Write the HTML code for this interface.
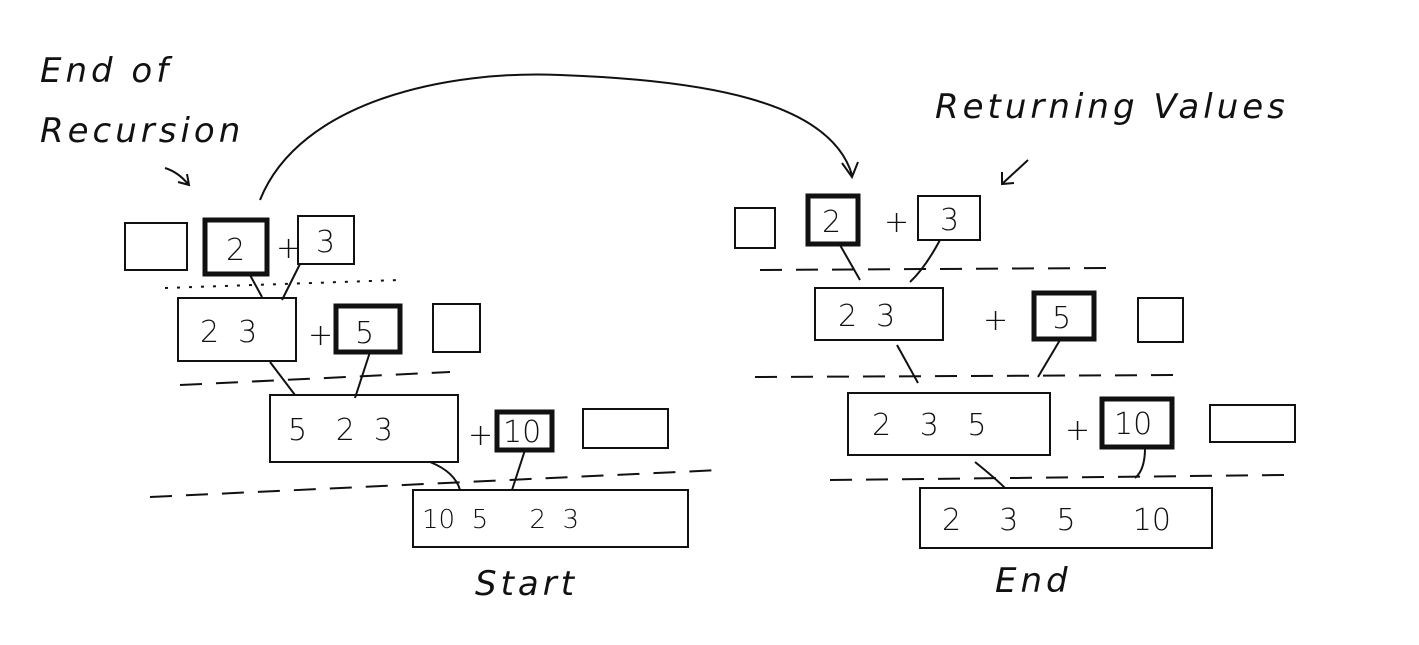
<!DOCTYPE html>
<html><head><meta charset="utf-8"><style>
html,body{margin:0;padding:0;background:#fff;}
svg{display:block}
text{font-family:"DejaVu Sans","Liberation Sans",sans-serif;fill:#111;white-space:pre;}
.lbl{font-style:italic;font-weight:300;font-size:34px;letter-spacing:4px;}
.num{font-size:30px;font-weight:300;}
.b{fill:none;stroke:#111;stroke-width:2;}
.bb{fill:none;stroke:#111;stroke-width:5;}
.d{fill:none;stroke:#111;stroke-width:2;stroke-dasharray:22 14;}
.dt{fill:none;stroke:#111;stroke-width:2;stroke-dasharray:3 9;}
</style></head><body>
<svg width="1419" height="645" viewBox="0 0 1419 645">
<text class="lbl" x="40" y="82">End of</text>
<text class="lbl" x="40" y="142">Recursion</text>
<path class="b" d="M165 168 Q178 172 188 184 M178 182 L189 185 L187 174"/>
<rect class="b" x="125" y="223" width="62" height="47"/>
<rect class="bb" x="205" y="220" width="62" height="54"/>
<text class="num" x="226" y="260">2</text>
<text class="num" x="276" y="258">+</text>
<rect class="b" x="298" y="216" width="56" height="48"/>
<text class="num" x="316" y="252">3</text>
<path class="dt" d="M165 288 L400 280"/>
<path class="b" d="M250 275 L262 297 M300 264 L282 300"/>
<rect class="b" x="178" y="298" width="118" height="63"/>
<text class="num" x="200" y="342">2  3</text>
<text class="num" x="308" y="345">+</text>
<rect class="bb" x="336" y="306" width="64" height="46"/>
<text class="num" x="355" y="343">5</text>
<rect class="b" x="433" y="304" width="47" height="48"/>
<path class="d" d="M180 385 L450 372"/>
<path class="b" d="M270 362 L295 395 M370 352 L355 398"/>
<rect class="b" x="270" y="395" width="188" height="67"/>
<text class="num" x="288" y="440">5   2  3</text>
<text class="num" x="468" y="445">+</text>
<rect class="bb" x="497" y="412" width="55" height="38"/>
<text class="num" x="503" y="442">10</text>
<rect class="b" x="583" y="409" width="85" height="39"/>
<path class="d" d="M150 497 L720 470"/>
<path class="b" d="M430 462 Q455 472 460 490 M525 450 L512 490"/>
<rect class="b" x="413" y="490" width="275" height="57"/>
<text class="num" x="422" y="528" style="font-size:26px">10  5     2  3</text>
<text class="lbl" x="475" y="595">Start</text>
<path class="b" d="M260 200 C300 100 450 70 560 75 C700 80 830 100 852 175 M842 163 L852 177 L858 162"/>
<text class="lbl" x="935" y="118">Returning Values</text>
<path class="b" d="M1028 160 L1002 184 M1002 172 L1002 184 L1014 183"/>
<rect class="b" x="735" y="208" width="40" height="40"/>
<rect class="bb" x="808" y="196" width="50" height="48"/>
<text class="num" x="822" y="232">2</text>
<text class="num" x="884" y="232">+</text>
<rect class="b" x="918" y="196" width="62" height="44"/>
<text class="num" x="940" y="230">3</text>
<path class="d" d="M760 270 L1110 268"/>
<path class="b" d="M840 245 L860 280 M940 240 Q925 268 910 282"/>
<rect class="b" x="815" y="288" width="128" height="52"/>
<text class="num" x="838" y="326">2  3</text>
<text class="num" x="983" y="330">+</text>
<rect class="bb" x="1034" y="293" width="60" height="46"/>
<text class="num" x="1052" y="328">5</text>
<rect class="b" x="1138" y="298" width="45" height="44"/>
<path class="d" d="M755 377 L1185 375"/>
<path class="b" d="M897 345 L918 383 M1060 340 L1038 377"/>
<rect class="b" x="848" y="393" width="202" height="62"/>
<text class="num" x="872" y="435">2   3   5</text>
<text class="num" x="1065" y="440">+</text>
<rect class="bb" x="1102" y="399" width="70" height="48"/>
<text class="num" x="1114" y="434">10</text>
<rect class="b" x="1210" y="405" width="85" height="37"/>
<path class="d" d="M830 480 L1285 475"/>
<path class="b" d="M975 462 Q995 478 1005 488 M1145 448 Q1145 470 1135 478"/>
<rect class="b" x="920" y="488" width="292" height="60"/>
<text class="num" x="942" y="530">2    3    5      10</text>
<text class="lbl" x="995" y="592">End</text>
</svg>
</body></html>
